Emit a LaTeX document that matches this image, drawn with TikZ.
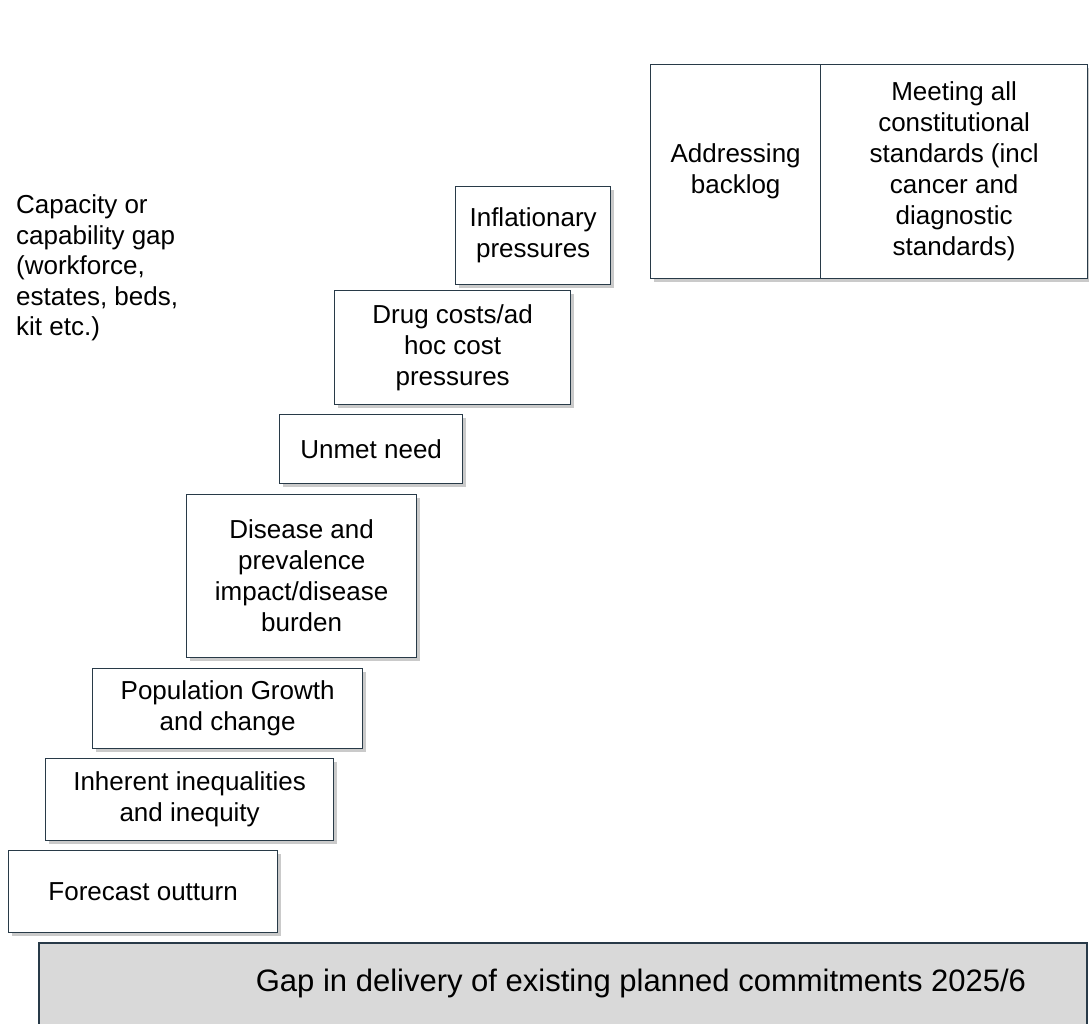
\documentclass[tikz,border=0pt]{standalone}
\usepackage{fontspec}
\setmainfont{Liberation Sans}
\usetikzlibrary{shadows}
\definecolor{edgeblue}{RGB}{40,58,72}
\definecolor{bargray}{RGB}{217,217,217}
\tikzset{
  stepbox/.style={draw=edgeblue, line width=1.3pt, fill=white, align=center,
    anchor=north west, inner sep=2pt,
    font=\fontsize{26}{31}\selectfont,
    drop shadow={shadow xshift=3.5pt, shadow yshift=-3.5pt, opacity=0.35, fill=black!60}},
  barbox/.style={draw=edgeblue, line width=2pt, fill=bargray, anchor=north west}
}
\begin{document}
\begin{tikzpicture}[x=1pt,y=-1pt]
  \useasboundingbox (0,0) rectangle (1089,1023);
  % base bar
  \node[barbox, minimum width=1048pt, minimum height=90pt] (gapbar) at (38,942) {};
  \node[font=\fontsize{31}{36}\selectfont, anchor=center] (gaptext) at (641,983) {Gap in delivery of existing planned commitments 2025/6};
  % steps
  \node[stepbox, minimum width=269pt, minimum height=82pt] (fore) at (8,850) {Forecast outturn};
  \node[stepbox, minimum width=288pt, minimum height=82pt] (ineq) at (45,758) {Inherent inequalities\\and inequity};
  \node[stepbox, minimum width=270pt, minimum height=80pt] (popn) at (92,668) {Population Growth\\and change};
  \node[stepbox, minimum width=230pt, minimum height=163pt] (dis) at (186,494) {Disease and\\prevalence\\impact/disease\\burden};
  \node[stepbox, minimum width=183pt, minimum height=69pt] (unmet) at (279,414) {Unmet need};
  \node[stepbox, minimum width=236pt, minimum height=114pt] (drug) at (334,290) {Drug costs/ad\\hoc cost\\pressures};
  \node[stepbox, minimum width=155pt, minimum height=98pt] (infl) at (455,186) {Inflationary\\pressures};
  \node[stepbox, minimum width=170pt, minimum height=214pt] (back) at (650,64) {Addressing\\backlog};
  \node[stepbox, minimum width=267pt, minimum height=214pt] (meet) at (820,64) {Meeting all\\constitutional\\standards (incl\\cancer and\\diagnostic\\standards)};
  % side note
  \node[font=\fontsize{26}{30.5}\selectfont, align=left, anchor=west, inner sep=0pt] (capgap) at (16,268) {Capacity or\\capability gap\\(workforce,\\estates, beds,\\kit etc.)};
\end{tikzpicture}
\end{document}
